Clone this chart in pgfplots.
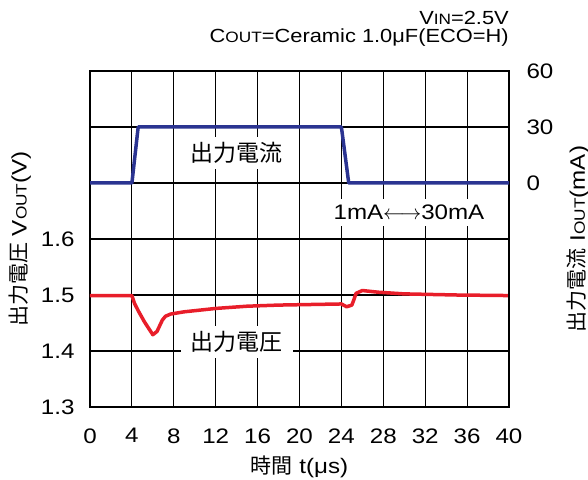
\documentclass[border=0pt]{standalone}
\usepackage{pgfplots}
\pgfplotsset{compat=1.18}
\usepackage{fontspec}
\setmainfont{Liberation Sans}[FakeStretch=1.15]
\newfontfamily\cjk{Noto Sans CJK JP}
\definecolor{cblue}{RGB}{43,52,145}
\definecolor{cred}{RGB}{232,30,42}
\newcommand{\fs}[1]{\fontsize{#1}{#1}\selectfont}
\newcommand{\sub}[1]{{\fontsize{15}{15}\selectfont #1}}
\begin{document}
\begin{tikzpicture}
\begin{axis}[
  at={(0,0)}, anchor=south west,
  scale only axis, width=419pt, height=336pt,
  xmin=0, xmax=40, ymin=1.3, ymax=1.9,
  xtick={0,4,8,12,16,20,24,28,32,36,40},
  ytick={1.3,1.4,1.5,1.6,1.7,1.8,1.9},
  yticklabels={1.3,1.4,1.5,1.6,,,},
  grid=major, grid style={black, line width=1.1pt},
  major tick length=0pt,
  axis line style={black, line width=1.5pt},
  ticklabel style={font=\fs{21}},
  /pgf/number format/assume math mode=true,
  xticklabel style={yshift=-18pt},
  yticklabel style={xshift=-12pt},
  xlabel={{\cjk 時間} t(μs)},
  xlabel style={font=\fs{21}, yshift=-6pt},
  ylabel={{\cjk 出力電圧} V\sub{OUT}(V)},
  ylabel style={font=\fs{21}, yshift=3pt},
  clip=false,
]
\addplot[cred, line width=3.5pt, line join=round] coordinates {
(0,1.499) (4,1.499) (4.25,1.485) (4.6,1.472) (5.2,1.452) (6.0,1.429) (6.4,1.435)
(6.9,1.455) (7.2,1.462) (7.7,1.466) (9,1.470) (12,1.476) (15,1.480) (18,1.482)
(21,1.483) (24,1.484) (24.5,1.479) (25.0,1.482) (25.2,1.492) (25.4,1.503)
(26,1.508) (27.5,1.505) (30,1.502) (35,1.500) (40,1.499)};
\node[fill=white, inner xsep=10pt, inner ysep=5pt, font=\cjk\fs{23}] at (axis cs:14,1.7536) {出力電流};
\node[fill=white, inner xsep=10pt, inner ysep=5pt, font=\cjk\fs{23}] at (axis cs:14,1.416) {出力電圧};
\node[fill=white, inner xsep=4pt, inner ysep=6pt, font=\fs{21}] at (axis cs:30.45,1.648) {1mA$\longleftrightarrow$30mA};
\node[anchor=base east, font=\fs{19}, inner sep=0pt] at ([yshift=46pt]rel axis cs:1,1) {V\sub{IN}=2.5V};
\node[anchor=base east, font=\fs{19}, inner sep=0pt] at ([yshift=28pt]rel axis cs:1,1) {C\sub{OUT}=Ceramic 1.0μF(ECO=H)};
\end{axis}
\begin{axis}[
  at={(0,0)}, anchor=south west,
  scale only axis, width=419pt, height=336pt,
  xmin=0, xmax=40, ymin=-120, ymax=60,
  axis x line=none, axis y line*=right,
  ytick={0,30,60},
  major tick length=0pt,
  axis line style={black, line width=1.5pt},
  ticklabel style={font=\fs{21}},
  /pgf/number format/assume math mode=true,
  yticklabel style={xshift=14pt},
  ylabel={{\cjk 出力電流} I\sub{OUT}(mA)},
  ylabel style={font=\fs{21}, yshift=-7pt},
  clip=false,
]
\addplot[cblue, line width=3.5pt, line join=round] coordinates {
(0,0) (4,0) (4.6,30) (24,30) (24.7,0) (40,0)};
\end{axis}
\pgfresetboundingbox
\path (-90pt,-72pt) rectangle (498pt,407pt);
\end{tikzpicture}
\end{document}
